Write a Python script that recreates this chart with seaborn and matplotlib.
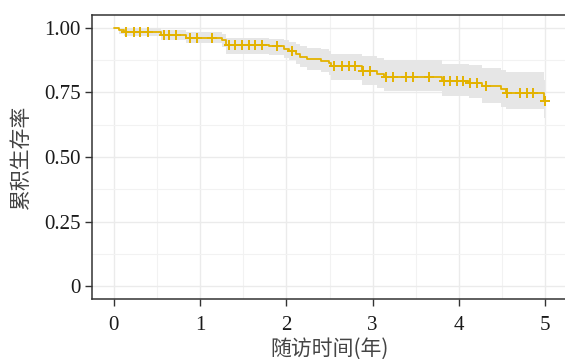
import numpy as np
import pandas as pd
import matplotlib
matplotlib.use("Agg")
import matplotlib.pyplot as plt
from matplotlib.ticker import MultipleLocator, FixedLocator, FixedFormatter
import seaborn as sns

# ---- data ----
step_times = [0.0, 0.06, 0.12, 0.544, 0.833, 1.258, 1.296, 1.80, 1.97, 2.03, 2.107,
              2.16, 2.24, 2.40, 2.49, 2.52, 2.88, 3.05, 3.13, 3.80, 4.11, 4.27,
              4.48, 4.54, 4.98, 4.99]
surv = [1.000, 0.990, 0.985, 0.973, 0.962, 0.954, 0.933, 0.928, 0.919, 0.912, 0.900,
        0.888, 0.880, 0.873, 0.864, 0.851, 0.833, 0.820, 0.810, 0.794, 0.787, 0.774,
        0.762, 0.749, 0.717, 0.717]
upper = [1.000, 1.000, 1.000, 0.993, 0.985, 0.978, 0.962, 0.958, 0.952, 0.946, 0.938,
         0.930, 0.924, 0.917, 0.910, 0.900, 0.890, 0.885, 0.877, 0.862, 0.856, 0.845,
         0.836, 0.830, 0.800, 0.800]
lower = [1.000, 0.975, 0.968, 0.955, 0.940, 0.925, 0.900, 0.897, 0.885, 0.876, 0.862,
         0.848, 0.838, 0.830, 0.818, 0.800, 0.780, 0.768, 0.755, 0.736, 0.728, 0.708,
         0.695, 0.685, 0.650, 0.650]
censor_times = [0.147, 0.235, 0.31, 0.40, 0.58, 0.64, 0.72, 0.89, 0.97, 1.14,
                1.335, 1.41, 1.49, 1.57, 1.64, 1.72, 1.89, 2.06, 2.55, 2.65, 2.72,
                2.80, 2.89, 2.97, 3.15, 3.23, 3.38, 3.47, 3.65, 3.82, 3.90, 3.98,
                4.05, 4.13, 4.21, 4.31, 4.56, 4.71, 4.79, 4.86, 4.99]
x_ticks = [0, 1, 2, 3, 4, 5]
y_ticks = [0, 0.25, 0.50, 0.75, 1.00]
y_ticklabels = ["0", "0.25", "0.50", "0.75", "1.00"]
x_label = "随访时间(年)"
y_label = "累积生存率"

sns.set_theme(style="white")
plt.rcParams["font.family"] = ["Liberation Serif", "Noto Sans CJK SC", "DejaVu Sans"]

line_color = "#E3B200"

curve = pd.DataFrame({"time": step_times, "surv": surv, "lower": lower, "upper": upper})
idx = np.searchsorted(np.array(step_times), np.array(censor_times), side="right") - 1
cens = pd.DataFrame({"time": censor_times, "surv": np.array(surv)[idx]})

fig = plt.figure(figsize=(5.65, 3.59), dpi=100)
ax = fig.add_axes([92 / 565, 60 / 359, (567 - 92) / 565, (299 - 15) / 359])

ax.fill_between(curve["time"], curve["lower"], curve["upper"], step="post",
                color="#E6E6E6", linewidth=0, zorder=1)
sns.lineplot(data=curve, x="time", y="surv", drawstyle="steps-post", estimator=None,
             color=line_color, linewidth=1.3, ax=ax, zorder=3)
sns.scatterplot(data=cens, x="time", y="surv", marker="+", s=60, linewidth=1.4,
                color=line_color, ax=ax, zorder=4)

ax.set_xlim(-0.25, 5.25)
ax.set_ylim(-0.05, 1.05)
ax.xaxis.set_major_locator(FixedLocator(x_ticks))
ax.xaxis.set_minor_locator(MultipleLocator(0.5))
ax.yaxis.set_major_locator(FixedLocator(y_ticks))
ax.yaxis.set_major_formatter(FixedFormatter(y_ticklabels))
ax.yaxis.set_minor_locator(MultipleLocator(0.125))

ax.grid(True, which="major", color="#EBEBEB", linewidth=1.0, zorder=0)
ax.grid(True, which="minor", color="#F2F2F2", linewidth=0.8, zorder=0)
ax.set_axisbelow(True)

for s in ["left", "bottom", "top", "right"]:
    ax.spines[s].set_visible(True)
    ax.spines[s].set_color("#333333")
    ax.spines[s].set_linewidth(1.1)

ax.tick_params(axis="both", which="major", direction="out", length=5, width=1.0,
               color="#333333", labelsize=15, labelcolor="#1a1a1a",
               left=True, bottom=True)
ax.tick_params(axis="x", which="major", pad=7)
ax.tick_params(axis="y", which="major", pad=3)
ax.tick_params(axis="both", which="minor", length=0)

ax.set_xlabel(x_label, fontsize=15, family=["Noto Sans CJK SC", "DejaVu Sans"],
              color="#444444", labelpad=2)
ax.set_ylabel(y_label, fontsize=15, family=["Noto Sans CJK SC", "DejaVu Sans"],
              color="#444444", labelpad=9)

fig.savefig("out.png", dpi=100)
